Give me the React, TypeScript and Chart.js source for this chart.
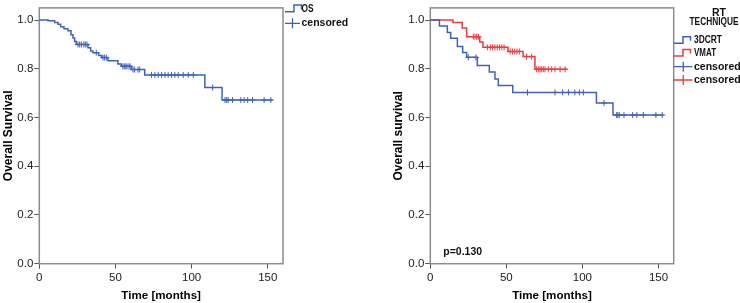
import { useEffect, useRef } from "react";
import { Chart, registerables } from "chart.js";

Chart.register(...registerables);

// ---------- data ----------
const xTickValues = [0, 50, 100, 150];
const yTickValues = [0, 0.2, 0.4, 0.6, 0.8, 1.0];

// Left panel: OS
const osTimes = [0, 5.7, 10.1, 12.3, 14.0, 16.2, 18.8, 20.8, 22.1, 23.2, 24.3, 32.0, 33.7, 35.2, 39.0, 41.0, 45.1, 51.6, 53.8, 60.4, 69.2, 108.7, 120.0, 153.1];
const osSurv = [1.0, 0.997, 0.99, 0.983, 0.973, 0.964, 0.956, 0.94, 0.926, 0.912, 0.9, 0.886, 0.873, 0.866, 0.855, 0.846, 0.833, 0.82, 0.81, 0.797, 0.775, 0.723, 0.672, 0.672];
const osCensored = [25.4, 26.5, 27.6, 29.3, 30.2, 31.3, 37.4, 41.8, 42.9, 44.0, 54.9, 55.8, 56.8, 57.6, 58.9, 59.6, 61.5, 62.6, 64.8, 65.9, 73.7, 75.9, 78.1, 80.3, 82.5, 84.6, 86.8, 89.0, 91.2, 94.5, 97.8, 101.1, 113.8, 121.9, 123.0, 124.0, 126.9, 132.3, 134.5, 136.8, 140.0, 147.6, 152.0];

// Right panel: 3DCRT
const crtTimes = [0, 6.0, 11.2, 13.4, 17.8, 21.3, 23.9, 30.9, 38.8, 42.5, 44.7, 54.2, 109.2, 120.1, 153.2];
const crtSurv = [1.0, 0.976, 0.949, 0.925, 0.892, 0.867, 0.847, 0.814, 0.787, 0.758, 0.731, 0.703, 0.66, 0.61, 0.61];
const crtCensored = [25.0, 30.0, 63.9, 82.0, 87.0, 90.8, 95.0, 98.0, 100.6, 114.2, 122.5, 123.3, 124.2, 127.3, 133.0, 135.8, 140.0, 148.3, 152.5];

// Right panel: VMAT
const vmatTimes = [0, 14.9, 21.0, 23.9, 32.5, 34.6, 51.1, 61.0, 68.8, 90.1];
const vmatSurv = [1.0, 0.99, 0.968, 0.932, 0.91, 0.888, 0.871, 0.85, 0.798, 0.798];
const vmatCensored = [28.3, 29.4, 30.5, 31.6, 37.5, 39.5, 41.0, 42.5, 44.0, 45.5, 47.0, 48.5, 52.5, 54.0, 55.5, 57.0, 58.5, 63.3, 66.6, 69.9, 71.0, 72.1, 73.2, 74.3, 75.4, 77.6, 79.8, 82.0, 85.3, 88.6];

const pValueText = "p=0.130";

// ---------- styles ----------
const FONT = "'Liberation Sans', Arial, Helvetica, sans-serif";
const BLUE = "#4060bd";
const RED = "#ef3b3b";
const BOX = "#8c8c8c";

function survAt(times: number[], surv: number[], t: number) {
  let s = surv[0];
  for (let i = 0; i < times.length; i++) {
    if (times[i] <= t) s = surv[i];
  }
  return s;
}

function stepData(times: number[], surv: number[]) {
  return times.map((t, i) => ({ x: t, y: surv[i] }));
}
function censorData(times: number[], surv: number[], cens: number[]) {
  return cens.map((t) => ({ x: t, y: survAt(times, surv, t) }));
}

function lineDs(times: number[], surv: number[], color: string) {
  return {
    type: "line" as const,
    data: stepData(times, surv),
    borderColor: color,
    borderWidth: 1.5,
    stepped: "before" as const,
    pointRadius: 0,
    fill: false,
  };
}
function censDs(times: number[], surv: number[], cens: number[], color: string) {
  return {
    type: "scatter" as const,
    data: censorData(times, surv, cens),
    borderColor: color,
    backgroundColor: color,
    pointStyle: "cross" as const,
    pointRadius: 3,
    borderWidth: 1,
    showLine: false,
  };
}

const boxPlugin = {
  id: "box",
  beforeDatasetsDraw(chart: any) {
    const { ctx, chartArea: a } = chart;
    ctx.save();
    ctx.strokeStyle = BOX;
    ctx.lineWidth = 1.5;
    ctx.strokeRect(a.left, a.top, a.right - a.left, a.bottom - a.top);
    ctx.restore();
  },
};

function stepIcon(ctx: CanvasRenderingContext2D, x: number, yLow: number, yHigh: number, yEnd: number, color: string) {
  ctx.save();
  ctx.strokeStyle = color;
  ctx.lineWidth = 1.5;
  ctx.beginPath();
  ctx.moveTo(x, yLow);
  ctx.lineTo(x + 9, yLow);
  ctx.lineTo(x + 9, yHigh);
  ctx.lineTo(x + 16.5, yHigh);
  ctx.lineTo(x + 16.5, yEnd);
  ctx.stroke();
  ctx.restore();
}
function plusIcon(ctx: CanvasRenderingContext2D, x: number, y: number, w: number, color: string) {
  ctx.save();
  ctx.strokeStyle = color;
  ctx.lineWidth = 1.3;
  ctx.beginPath();
  ctx.moveTo(x, y);
  ctx.lineTo(x + w, y);
  ctx.moveTo(x + w / 2, y - 5);
  ctx.lineTo(x + w / 2, y + 5);
  ctx.stroke();
  ctx.restore();
}
function label(ctx: CanvasRenderingContext2D, text: string, x: number, y: number, align: CanvasTextAlign = "left", maxW?: number) {
  ctx.save();
  ctx.fillStyle = "#111";
  ctx.font = `bold 10.5px ${FONT}`;
  ctx.textAlign = align;
  ctx.textBaseline = "middle";
  if (maxW) ctx.fillText(text, x, y, maxW);
  else ctx.fillText(text, x, y);
  ctx.restore();
}

const leftLegend = {
  id: "leftLegend",
  afterDraw(chart: any) {
    const ctx = chart.ctx as CanvasRenderingContext2D;
    stepIcon(ctx, 285, 11.7, 5, 9.5, BLUE);
    label(ctx, "OS", 301.5, 9.5, "left", 12);
    plusIcon(ctx, 285, 23.3, 15, BLUE);
    label(ctx, "censored", 301.5, 23.5);
  },
};

const rightLegend = {
  id: "rightLegend",
  afterDraw(chart: any) {
    const ctx = chart.ctx as CanvasRenderingContext2D;
    const ox = -370;
    label(ctx, "RT", 712 + ox, 13);
    label(ctx, "TECHNIQUE", 714 + ox, 22.5, "center", 49);
    stepIcon(ctx, 674 + ox, 43.3, 36.7, 40.7, BLUE);
    label(ctx, "3DCRT", 694 + ox, 40.5, "left", 28);
    stepIcon(ctx, 674 + ox, 56, 49.5, 53.5, RED);
    label(ctx, "VMAT", 694 + ox, 53, "left", 22);
    plusIcon(ctx, 674 + ox, 66.7, 18.5, BLUE);
    label(ctx, "censored", 694 + ox, 66.7);
    plusIcon(ctx, 674 + ox, 80, 18.5, RED);
    label(ctx, "censored", 694 + ox, 80);
    label(ctx, pValueText, 443.3 + ox, 251.7);
  },
};

function makeOptions(yTitle: string, padLeft: number, padRight: number, yWidth: number) {
  return {
    responsive: false,
    animation: false as const,
    devicePixelRatio: 1,
    layout: { padding: { left: padLeft, right: padRight, top: 1, bottom: 0 } },
    plugins: { legend: { display: false }, tooltip: { enabled: false } },
    scales: {
      x: {
        type: "linear" as const,
        min: 0,
        max: 160,
        afterBuildTicks: (s: any) => {
          s.ticks = xTickValues.map((v) => ({ value: v }));
        },
        afterFit: (s: any) => {
          s.height = 39.3;
        },
        ticks: {
          color: "#222",
          font: { family: FONT, size: 11.5 },
          padding: 2,
          maxRotation: 0,
          callback: (v: any) => String(v),
        },
        grid: { display: true, drawOnChartArea: false, drawTicks: true, tickLength: 5, color: "#555" },
        border: { display: false },
        title: {
          display: true,
          text: "Time [months]",
          color: "#000",
          font: { family: FONT, size: 11.6, weight: "bold" as const },
          padding: { top: 0, bottom: 0 },
        },
      },
      y: {
        type: "linear" as const,
        min: 0,
        max: 1.05,
        afterBuildTicks: (s: any) => {
          s.ticks = yTickValues.map((v) => ({ value: v }));
        },
        afterFit: (s: any) => {
          s.width = yWidth;
        },
        ticks: {
          color: "#222",
          font: { family: FONT, size: 11.5 },
          padding: 1,
          callback: (v: any) => Number(v).toFixed(1),
        },
        grid: { display: true, drawOnChartArea: false, drawTicks: true, tickLength: 5, color: "#555" },
        border: { display: false },
        title: {
          display: true,
          text: yTitle,
          color: "#000",
          font: { family: FONT, size: 12, weight: "bold" as const },
          padding: { top: 1, bottom: 0 },
        },
      },
    },
  };
}

export default function App() {
  const leftRef = useRef<HTMLCanvasElement>(null);
  const rightRef = useRef<HTMLCanvasElement>(null);

  useEffect(() => {
    const left = new Chart(leftRef.current as HTMLCanvasElement, {
      type: "line",
      data: {
        datasets: [
          lineDs(osTimes, osSurv, BLUE) as any,
          censDs(osTimes, osSurv, osCensored, BLUE) as any,
        ],
      },
      options: makeOptions("Overall Survival", 0, 87, 39.3) as any,
      plugins: [boxPlugin, leftLegend],
    });
    const right = new Chart(rightRef.current as HTMLCanvasElement, {
      type: "line",
      data: {
        datasets: [
          lineDs(crtTimes, crtSurv, BLUE) as any,
          lineDs(vmatTimes, vmatSurv, RED) as any,
          censDs(crtTimes, crtSurv, crtCensored, BLUE) as any,
          censDs(vmatTimes, vmatSurv, vmatCensored, RED) as any,
        ],
      },
      options: makeOptions("Overall survival", 20, 66.3, 40.3) as any,
      plugins: [boxPlugin, rightLegend],
    });
    return () => {
      left.destroy();
      right.destroy();
    };
  }, []);

  return (
    <div style={{ position: "fixed", left: 0, top: 0, width: 740, height: 303, background: "#fff" }}>
      <canvas ref={leftRef} width={370} height={303} style={{ position: "absolute", left: 0, top: 0, width: 370, height: 303 }} />
      <canvas ref={rightRef} width={370} height={303} style={{ position: "absolute", left: 370, top: 0, width: 370, height: 303 }} />
    </div>
  );
}
